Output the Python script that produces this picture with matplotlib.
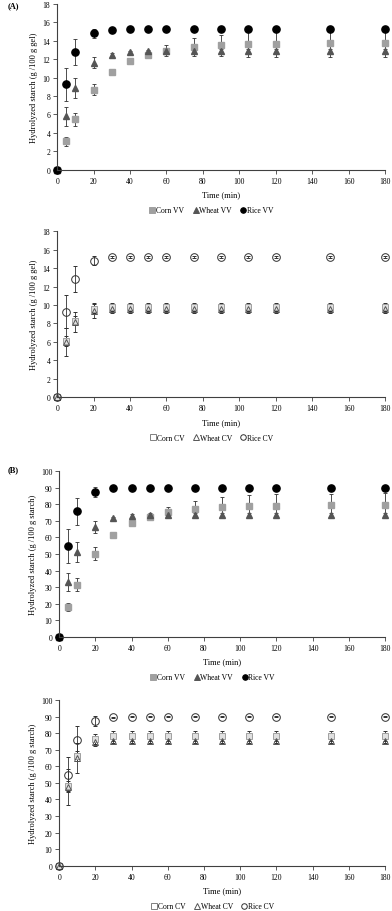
import matplotlib
matplotlib.use('Agg')
from matplotlib import pyplot as plt
from matplotlib.lines import Line2D

plt.rcParams['font.family'] = ['Liberation Serif', 'DejaVu Serif']

time = [0, 5, 10, 20, 30, 40, 50, 60, 75, 90, 105, 120, 150, 180]

# (A) g / 100 g gel
corn_vv_a = [0, 3.1, 5.5, 8.7, 10.6, 11.8, 12.5, 12.9, 13.3, 13.5, 13.65, 13.7, 13.75, 13.75]
corn_vv_a_err = [0, 0.5, 0.7, 0.6, 0.2, 0.2, 0.2, 0.6, 1.0, 1.1, 1.4, 1.5, 1.5, 1.5]
wheat_vv_a = [0, 5.8, 8.9, 11.6, 12.5, 12.75, 12.85, 12.9, 12.9, 12.9, 12.9, 12.9, 12.9, 12.9]
wheat_vv_a_err = [0, 1.0, 1.1, 0.6, 0.2, 0.2, 0.2, 0.2, 0.2, 0.2, 0.2, 0.2, 0.2, 0.2]
rice_vv_a = [0, 9.3, 12.8, 14.8, 15.2, 15.25, 15.25, 15.25, 15.25, 15.25, 15.25, 15.25, 15.25, 15.25]
rice_vv_a_err = [0, 1.8, 1.4, 0.5, 0.1, 0.1, 0.1, 0.1, 0.1, 0.1, 0.1, 0.1, 0.1, 0.1]

corn_cv_a = [0, 6.1, 8.3, 9.6, 9.8, 9.8, 9.8, 9.8, 9.8, 9.8, 9.8, 9.8, 9.8, 9.8]
corn_cv_a_err = [0, 0.5, 0.5, 0.5, 0.4, 0.4, 0.4, 0.4, 0.4, 0.4, 0.4, 0.4, 0.4, 0.4]
wheat_cv_a = [0, 6.0, 8.2, 9.4, 9.6, 9.6, 9.6, 9.6, 9.6, 9.6, 9.6, 9.6, 9.6, 9.6]
wheat_cv_a_err = [0, 1.5, 1.1, 0.8, 0.5, 0.5, 0.5, 0.5, 0.5, 0.5, 0.5, 0.5, 0.5, 0.5]
rice_cv_a = [0, 9.3, 12.8, 14.8, 15.2, 15.25, 15.25, 15.25, 15.25, 15.25, 15.25, 15.25, 15.25, 15.25]
rice_cv_a_err = [0, 1.8, 1.4, 0.5, 0.1, 0.1, 0.1, 0.1, 0.1, 0.1, 0.1, 0.1, 0.1, 0.1]

# (B) g / 100 g starch
corn_vv_b = [0, 17.8, 31.5, 50.3, 61.5, 68.7, 72.5, 75.3, 77.3, 78.5, 79.0, 79.3, 79.5, 79.6]
corn_vv_b_err = [0, 2.5, 4.0, 4.0, 1.0, 1.0, 1.0, 3.0, 5.0, 6.0, 6.5, 7.0, 7.0, 7.0]
wheat_vv_b = [0, 33.0, 51.0, 66.5, 71.5, 73.0, 73.5, 73.8, 73.8, 73.8, 73.8, 73.8, 73.8, 73.8]
wheat_vv_b_err = [0, 5.5, 6.0, 3.5, 1.0, 1.0, 1.0, 1.0, 1.0, 1.0, 1.0, 1.0, 1.0, 1.0]
rice_vv_b = [0, 54.8, 75.8, 87.5, 89.8, 90.0, 90.0, 90.0, 90.0, 90.0, 90.0, 90.0, 90.0, 90.0]
rice_vv_b_err = [0, 10.5, 8.3, 3.3, 0.5, 0.3, 0.3, 0.3, 0.3, 0.3, 0.3, 0.3, 0.3, 0.3]

corn_cv_b = [0, 48.0, 66.0, 76.5, 78.0, 78.0, 78.0, 78.0, 78.0, 78.0, 78.0, 78.0, 78.0, 78.0]
corn_cv_b_err = [0, 3.0, 3.0, 3.0, 3.0, 3.0, 3.0, 3.0, 3.0, 3.0, 3.0, 3.0, 3.0, 3.0]
wheat_cv_b = [0, 47.5, 65.0, 74.5, 75.5, 75.5, 75.5, 75.5, 75.5, 75.5, 75.5, 75.5, 75.5, 75.5]
wheat_cv_b_err = [0, 11.0, 9.0, 2.5, 1.5, 1.5, 1.5, 1.5, 1.5, 1.5, 1.5, 1.5, 1.5, 1.5]
rice_cv_b = [0, 55.0, 75.8, 87.5, 89.5, 90.0, 90.0, 90.0, 90.0, 90.0, 90.0, 90.0, 90.0, 90.0]
rice_cv_b_err = [0, 10.5, 8.3, 3.0, 0.5, 0.3, 0.3, 0.3, 0.3, 0.3, 0.3, 0.3, 0.3, 0.3]

fig = plt.figure(figsize=(3.92, 9.12), dpi=100)

# axes positions [left, bottom, width, height]
ax1 = fig.add_axes([0.146, 0.8128, 0.836, 0.1817])
ax2 = fig.add_axes([0.146, 0.5633, 0.836, 0.1820])
ax3 = fig.add_axes([0.151, 0.3008, 0.831, 0.1813])
ax4 = fig.add_axes([0.151, 0.0497, 0.831, 0.1817])

def style(ax, ymax, ystep, ylabel):
    ax.set_xlim(0, 180)
    ax.set_ylim(0, ymax)
    ax.set_xticks(range(0, 181, 20))
    ax.set_yticks(range(0, ymax + 1, ystep))
    ax.spines['top'].set_visible(False)
    ax.spines['right'].set_visible(False)
    for s in ['left', 'bottom']:
        ax.spines[s].set_color('#404040')
        ax.spines[s].set_linewidth(0.8)
    ax.tick_params(labelsize=5.5, length=3, width=0.6, direction='out', color='#404040', pad=2)
    ax.set_xlabel('Time (min)', fontsize=6, labelpad=4)
    ax.set_ylabel(ylabel, fontsize=6, labelpad=3)

def add_legend(ax, names, markers, faces, edges):
    handles = [Line2D([], [], linestyle='none', marker=m, markersize=4,
                      markerfacecolor=f, markeredgecolor=e, markeredgewidth=0.7)
               for m, f, e in zip(markers, faces, edges)]
    ax.legend(handles, names, loc='center', bbox_to_anchor=(0.472, -0.245), ncol=3,
              frameon=False, fontsize=5.5, handlelength=0.6, handletextpad=0.2,
              columnspacing=1.2)

kw = dict(linestyle='none', capsize=1.3, elinewidth=0.6, capthick=0.6, clip_on=False,
          ecolor='#303030')

def vv(ax, corn, ce, wheat, we, rice, re):
    ax.errorbar(time, corn, yerr=ce, marker='s', markersize=4.5, color='#a0a0a0', **kw)
    ax.errorbar(time, wheat, yerr=we, marker='^', markersize=4.5, color='#555555', **kw)
    ax.errorbar(time, rice, yerr=re, marker='o', markersize=5.2, color='black', **kw)
    add_legend(ax, ['Corn VV', 'Wheat VV', 'Rice VV'], ['s', '^', 'o'],
               ['#a0a0a0', '#555555', 'black'], ['#a0a0a0', '#555555', 'black'])

def cv(ax, corn, ce, wheat, we, rice, re):
    ax.errorbar(time, corn, yerr=ce, marker='s', markersize=5, markerfacecolor='#e0e0e0',
                markeredgecolor='#a0a0a0', markeredgewidth=0.7, **kw)
    ax.errorbar(time, wheat, yerr=we, marker='^', markersize=4.5, markerfacecolor='none',
                markeredgecolor='#555555', markeredgewidth=0.7, **kw)
    ax.errorbar(time, rice, yerr=re, marker='o', markersize=5.5, markerfacecolor='none',
                markeredgecolor='#303030', markeredgewidth=0.7, **kw)
    add_legend(ax, ['Corn CV', 'Wheat CV', 'Rice CV'], ['s', '^', 'o'],
               ['none', 'none', 'none'], ['#808080', '#555555', '#303030'])

style(ax1, 18, 2, 'Hydrolyzed starch (g /100 g gel)')
vv(ax1, corn_vv_a, corn_vv_a_err, wheat_vv_a, wheat_vv_a_err, rice_vv_a, rice_vv_a_err)

style(ax2, 18, 2, 'Hydrolyzed starch (g /100 g gel)')
cv(ax2, corn_cv_a, corn_cv_a_err, wheat_cv_a, wheat_cv_a_err, rice_cv_a, rice_cv_a_err)

style(ax3, 100, 10, 'Hydrolyzed starch (g /100 g starch)')
vv(ax3, corn_vv_b, corn_vv_b_err, wheat_vv_b, wheat_vv_b_err, rice_vv_b, rice_vv_b_err)

style(ax4, 100, 10, 'Hydrolyzed starch (g /100 g starch)')
cv(ax4, corn_cv_b, corn_cv_b_err, wheat_cv_b, wheat_cv_b_err, rice_cv_b, rice_cv_b_err)

fig.text(0.02, 0.993, '(A)', fontsize=6, fontweight='bold', va='center')
fig.text(0.02, 0.484, '(B)', fontsize=6, fontweight='bold', va='center')

fig.savefig('out.png', dpi=100)
